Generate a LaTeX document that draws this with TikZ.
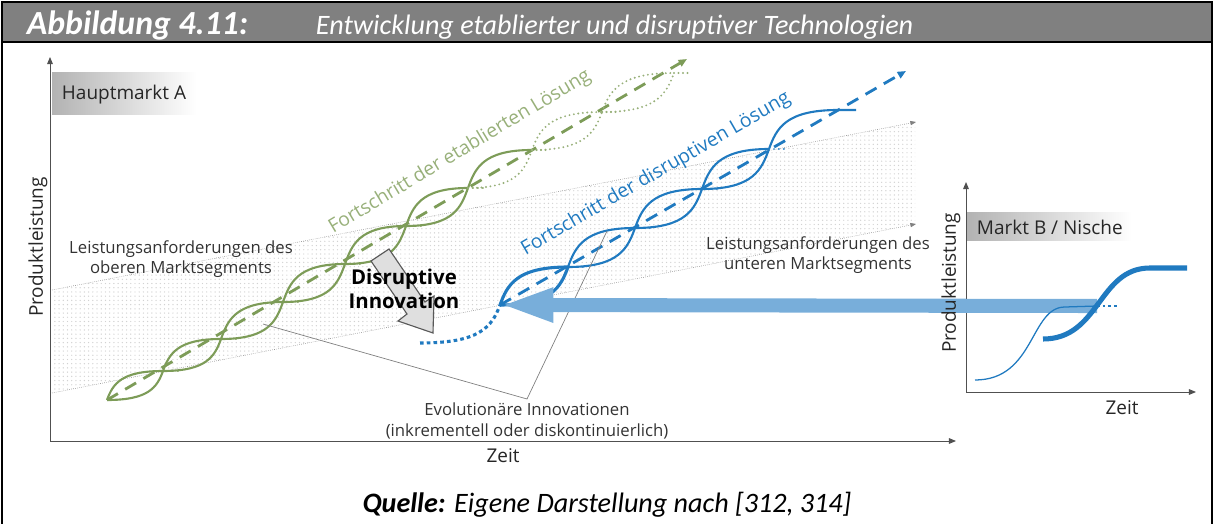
\documentclass[tikz,border=0pt]{standalone}
\usepackage{fontspec}
\setmainfont{Open Sans}
\newfontfamily\titlefont{Carlito}
\usetikzlibrary{arrows.meta,patterns}

\definecolor{estgreen}{RGB}{125,156,88}
\definecolor{estgreenlight}{RGB}{152,176,122}
\definecolor{disblue}{RGB}{32,122,192}
\definecolor{arrowblue}{RGB}{120,174,218}
\definecolor{titlegray}{RGB}{128,128,128}
\definecolor{axisgray}{RGB}{80,80,80}

\tikzset{
  flatsteep/.style={out=0, in=-110, out looseness=1.7, in looseness=0.7},
  steepflat/.style={out=70, in=180, out looseness=0.7, in looseness=1.7},
  axis/.style={axisgray, line width=0.7pt, -{Triangle[length=5pt,width=4pt]}},
  bandline/.style={gray, line width=0.4pt, densely dotted, -{Triangle[length=4pt,width=3pt]}},
  estcurve/.style={estgreen, line width=1.5pt},
  estfuture/.style={estgreenlight, line width=1.5pt, line cap=round, dash pattern=on 0pt off 3.2pt},
  disruptcurve/.style={disblue, line width=1.5pt},
  tail/.style={line width=1.4pt, line cap=round, dash pattern=on 0pt off 3.5pt},
  trend/.style={line width=2pt, dash pattern=on 9pt off 6pt, -{Triangle[length=6pt,width=5pt]}},
  plainlabel/.style={text=black!80, align=center, font=\fontsize{11.9}{14.5}\selectfont},
  marketlabel/.style={anchor=west, text=black!85, font=\fontsize{13.5}{16}\selectfont},
  axislabel/.style={text=black!85, font=\fontsize{13.5}{16}\selectfont},
  callout/.style={gray, line width=0.5pt}
}

\begin{document}
\begin{tikzpicture}[x=0.025cm, y=-0.025cm]
\useasboundingbox (0,0) rectangle (1214,524);

% frame and title bar
\fill[titlegray] (2,3) rectangle (1212,41);
\draw[line width=1.3pt] (2,524) -- (2,2) -- (1212,2) -- (1212,524);
\draw[line width=1.3pt] (2,42) -- (1212,42);
\node[anchor=base west, text=white, font=\titlefont\bfseries\itshape\fontsize{24}{28}\selectfont] (fignum) at (22,35) {Abbildung 4.11:};
\node[anchor=base west, text=white, font=\titlefont\itshape\fontsize{20}{24}\selectfont] (figtitle) at (311,35) {Entwicklung etablierter und disruptiver Technologien};

% main market: band of performance requirements
\fill[pattern=dots, pattern color=gray!35] (52,290) -- (915,122) -- (915,224) -- (52,393) -- cycle;
\coordinate (upA) at (52,290);  \coordinate (upB) at (916,122);
\coordinate (loA) at (52,393);  \coordinate (loB) at (916,224);
\draw[bandline] (upA) -- (upB);
\draw[bandline] (loA) -- (loB);

% axes of main market
\coordinate (oA) at (50,441);
\coordinate (yA) at (50,57);
\coordinate (xA) at (956,441);
\draw[axis] (oA) -- (yA);
\draw[axis] (oA) -- (xA);
\node[axislabel, rotate=90] (perfA) at (38,247) {Produktleistung};
\node[axislabel] (timeA) at (503,456) {Zeit};

\shade[left color=gray!60, right color=white] (52,73) rectangle (196,115);
\node[marketlabel] (mainmkt) at (57,95) {Hauptmarkt A};

% established solution
\foreach \n/\x/\y in {0/107/400, 1/163/371, 2/221/339, 3/283/302, 4/345/264, 5/406/226, 6/468/188, 7/532/150, 8/602/112, 9/674/73}
  \coordinate (g\n) at (\x,\y);
\coordinate (gend) at (687,59);
\draw[estgreen, trend] (g0) -- (gend);
\foreach \a/\b in {0/1, 1/2, 2/3, 3/4, 4/5, 5/6} {
  \draw[estcurve] (g\a) to[flatsteep] (g\b);
  \draw[estcurve] (g\a) to[steepflat] (g\b);
  \draw[estgreen, tail] (g\b) ++(5,0) -- ++(12,0);
}
\draw[estcurve] (g6) to[steepflat] (g7);
\draw[estfuture] (g6) to[flatsteep] (g7);
\foreach \a/\b in {7/8, 8/9} {
  \draw[estfuture] (g\a) to[flatsteep] (g\b);
  \draw[estfuture] (g\a) to[steepflat] (g\b);
}
\foreach \n in {7,8,9}
  \draw[estfuture] (g\n) -- ++(16,0);
\node[rotate=31, text=estgreenlight, font=\fontsize{13.7}{16}\selectfont] (estlabel) at (460,152) {Fortschritt der etablierten Lösung};

% disruptive solution
\foreach \n/\x/\y in {0/500/305, 1/568/267, 2/635/228, 3/702/189, 4/769/149, 5/838/110}
  \coordinate (b\n) at (\x,\y);
\coordinate (bstart) at (420,343);
\coordinate (bflat) at (856,110);
\coordinate (bend) at (906,71);
\draw[disblue, trend] (b0) -- (bend);
\draw[disblue, line width=2.2pt, dash pattern=on 2.6pt off 2.2pt] (bstart) to[flatsteep] (b0);
\draw[disruptcurve, line width=2.2pt] (b0) to[flatsteep] (b1);
\draw[disruptcurve, line width=2.2pt] (b0) to[steepflat] (b1);
\foreach \a/\b in {1/2, 2/3, 3/4} {
  \draw[disruptcurve] (b\a) to[flatsteep] (b\b);
  \draw[disruptcurve] (b\a) to[steepflat] (b\b);
}
\foreach \n in {1,...,4}
  \draw[disblue, tail] (b\n) ++(5,0) -- ++(10,0);
\draw[disruptcurve] (b4) to[steepflat] (b5) -- (bflat);
\node[rotate=30, text=disblue, font=\fontsize{13.8}{16}\selectfont] (dislabel) at (656,174) {Fortschritt der disruptiven Lösung};

% labels in the band
\node[plainlabel] (upperseg) at (181,259) {Leistungsanforderungen des\\oberen Marktsegments};
\node[plainlabel] (lowerseg) at (818,255) {Leistungsanforderungen des\\unteren Marktsegments};

% disruptive innovation arrow
\draw[gray!70!black, fill=gray!25, line width=0.8pt]
  (371,261) -- (389,249) -- (425,302) -- (434,296) -- (433,333) -- (398,321) -- (407,314) -- cycle;
\node[font=\bfseries\fontsize{14.5}{17}\selectfont, align=center] (disinno) at (404,289) {Disruptive\\Innovation};

% evolutionary innovations
\coordinate (evoL) at (263,324);
\coordinate (evo) at (527,399);
\coordinate (evoR) at (607,231);
\draw[callout] (evoL) -- (evo) -- (evoR);
\node[plainlabel] (evolabel) at (527,421) {Evolutionäre Innovationen\\(inkrementell oder diskontinuierlich)};

% niche market
\coordinate (oB) at (966,392);
\coordinate (yB) at (966,182);
\coordinate (xB) at (1196,392);
\draw[axis] (oB) -- (yB);
\draw[axis] (oB) -- (xB);
\shade[left color=gray!60, right color=white] (967,213) rectangle (1132,241);
\node[marketlabel] (nichemkt) at (972,227) {Markt B / Nische};

\coordinate (nicheS) at (1097,306);
\draw[arrowblue, line width=10pt, -{Triangle[length=38pt,width=22pt]}] (nicheS) -- (b0);
\node[axislabel, rotate=90] (perfB) at (951,283) {Produktleistung};
\node[axislabel] (timeB) at (1122,408) {Zeit};

\coordinate (thinA) at (975,380);
\coordinate (thinB) at (1065,307);
\draw[disblue, line width=0.9pt] (thinA) .. controls (1035,380) and (1030,307) .. (thinB) -- (nicheS);
\draw[disblue, line width=0.9pt, dash pattern=on 2pt off 2pt] (nicheS) -- ++(20,0);
\coordinate (thickA) at (1043,339);
\coordinate (thickB) at (1150,268);
\draw[disblue, line width=3.6pt] (thickA) .. controls (1100,339) and (1098,268) .. (thickB) -- (1187,268);

% source
\node[font=\titlefont\itshape\fontsize{20}{24}\selectfont] (source) at (607,505) {\textbf{Quelle:} Eigene Darstellung nach [312, 314]};
\end{tikzpicture}
\end{document}
